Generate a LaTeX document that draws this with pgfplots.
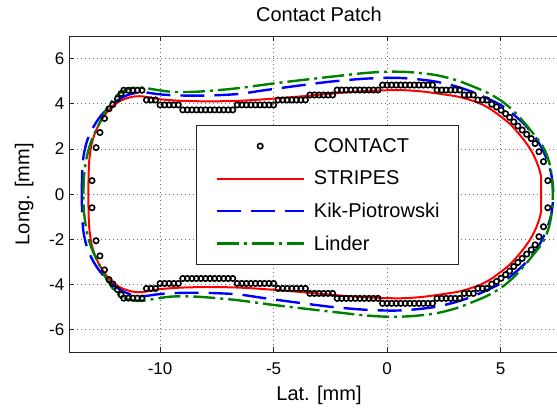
\documentclass[border=0pt]{standalone}
\usepackage{fontspec}
\setmainfont{Liberation Sans}
\usepackage{pgfplots}
\pgfplotsset{compat=1.18}
\definecolor{lindergreen}{RGB}{0,128,0}

\begin{document}
\begin{tikzpicture}
\begin{axis}[
  scale only axis, width=499.4pt, height=316.4pt,
  xmin=-14, xmax=8, ymin=-7, ymax=7,
  xtick={-10,-5,0,5}, ytick={-6,-4,-2,0,2,4,6},
  tick align=inside, major tick length=5pt,
  /pgf/number format/assume math mode=true,
  ticklabel style={font=\fontsize{17}{20}\selectfont},
  yticklabel style={xshift=-1.5pt},
  xticklabel style={yshift=-7pt},
  grid=major,
  grid style={black!55, line width=0.8pt, dash pattern=on 0.8pt off 3.2pt},
  axis line style={black!85, line width=1pt},
  every tick/.style={black!85, line width=0.9pt},
  title={Contact Patch},
  title style={font=\fontsize{20}{24}\selectfont, at={(axis description cs:0.5,1.0253)}, anchor=base},
  xlabel={Lat. [mm]},
  xlabel style={font=\fontsize{20}{24}\selectfont, at={(axis description cs:0.5,-0.1517)}, anchor=base},
  ylabel={Long. [mm]},
  ylabel style={font=\fontsize{20}{24}\selectfont, at={(axis description cs:-0.0901,0.5)}, anchor=center},
  legend cell align=left,
  legend style={at={(axis cs:-8.42,3.07)}, anchor=north west, draw=black!85, line width=1.1pt,
    fill=white, inner xsep=19pt, inner ysep=4.5pt, font=\fontsize{20}{24}\selectfont,
    row sep=0pt, nodes={inner sep=0pt, minimum height=32.5pt},
    /tikz/every odd column/.append style={column sep=9pt}},
  legend image code/.code={\draw[mark repeat=2,mark phase=2,#1] plot coordinates {(0pt,0pt) (43.5pt,0pt) (87pt,0pt)};},
]
\coordinate (O) at (rel axis cs:0,0);

% measured contact points
\addplot[only marks, mark=o, mark size=2.7pt, black, line width=1.6pt,
  mark options={line width=1.6pt},
  legend image post style={line width=1.6pt}] coordinates {
(-13.0,0.6) (-12.82,2.06) (-12.65,2.73) (-12.45,3.35) (-12.25,3.78) (-12.08,3.97) (-11.88,4.22) (-11.72,4.45)
(-11.6,4.6) (-11.4,4.6) (-11.2,4.6) (-11.0,4.6) (-10.8,4.6)
(-10.6,4.17) (-10.4,4.17) (-10.2,4.17)
(-10.0,3.95) (-9.8,3.95) (-9.6,3.95) (-9.4,3.95) (-9.2,3.95)
(-9.0,3.73) (-8.8,3.73) (-8.6,3.73) (-8.4,3.73) (-8.2,3.73) (-8.0,3.73) (-7.8,3.73) (-7.6,3.73) (-7.4,3.73) (-7.2,3.73) (-7.0,3.73) (-6.8,3.73)
(-6.6,3.95) (-6.4,3.95) (-6.2,3.95) (-6.0,3.95) (-5.8,3.95) (-5.6,3.95) (-5.4,3.95) (-5.2,3.95) (-5.0,3.95)
(-4.8,4.17) (-4.6,4.17) (-4.4,4.17) (-4.2,4.17) (-4.0,4.17) (-3.8,4.17) (-3.6,4.17)
(-3.4,4.39) (-3.2,4.39) (-3.0,4.39) (-2.8,4.39) (-2.6,4.39) (-2.4,4.39)
(-2.2,4.61) (-2.0,4.61) (-1.8,4.61) (-1.6,4.61) (-1.4,4.61) (-1.2,4.61) (-1.0,4.61) (-0.8,4.61) (-0.6,4.61) (-0.4,4.61)
(-0.2,4.83) (0.0,4.83) (0.2,4.83) (0.4,4.83) (0.6,4.83) (0.8,4.83) (1.0,4.83) (1.2,4.83) (1.4,4.83) (1.6,4.83) (1.8,4.83) (2.0,4.83)
(2.2,4.61) (2.4,4.61) (2.6,4.61) (2.8,4.61) (3.0,4.61) (3.2,4.61)
(3.4,4.39) (3.6,4.39) (3.8,4.39)
(4.0,4.17) (4.2,4.17) (4.4,4.17)
(4.61,3.98) (4.82,3.86) (5.02,3.72) (5.22,3.56) (5.4,3.4) (5.58,3.2) (5.76,3.02) (5.95,2.84) (6.15,2.65) (6.35,2.46) (6.52,2.24) (6.69,1.88) (6.89,1.44) (7.08,0.6)
(-13.0,-0.6) (-12.82,-2.06) (-12.65,-2.73) (-12.45,-3.35) (-12.25,-3.78) (-12.08,-3.97) (-11.88,-4.22) (-11.72,-4.45)
(-11.6,-4.6) (-11.4,-4.6) (-11.2,-4.6) (-11.0,-4.6) (-10.8,-4.6)
(-10.6,-4.17) (-10.4,-4.17) (-10.2,-4.17)
(-10.0,-3.95) (-9.8,-3.95) (-9.6,-3.95) (-9.4,-3.95) (-9.2,-3.95)
(-9.0,-3.73) (-8.8,-3.73) (-8.6,-3.73) (-8.4,-3.73) (-8.2,-3.73) (-8.0,-3.73) (-7.8,-3.73) (-7.6,-3.73) (-7.4,-3.73) (-7.2,-3.73) (-7.0,-3.73) (-6.8,-3.73)
(-6.6,-3.95) (-6.4,-3.95) (-6.2,-3.95) (-6.0,-3.95) (-5.8,-3.95) (-5.6,-3.95) (-5.4,-3.95) (-5.2,-3.95) (-5.0,-3.95)
(-4.8,-4.17) (-4.6,-4.17) (-4.4,-4.17) (-4.2,-4.17) (-4.0,-4.17) (-3.8,-4.17) (-3.6,-4.17)
(-3.4,-4.39) (-3.2,-4.39) (-3.0,-4.39) (-2.8,-4.39) (-2.6,-4.39) (-2.4,-4.39)
(-2.2,-4.61) (-2.0,-4.61) (-1.8,-4.61) (-1.6,-4.61) (-1.4,-4.61) (-1.2,-4.61) (-1.0,-4.61) (-0.8,-4.61) (-0.6,-4.61) (-0.4,-4.61)
(-0.2,-4.83) (0.0,-4.83) (0.2,-4.83) (0.4,-4.83) (0.6,-4.83) (0.8,-4.83) (1.0,-4.83) (1.2,-4.83) (1.4,-4.83) (1.6,-4.83) (1.8,-4.83) (2.0,-4.83)
(2.2,-4.61) (2.4,-4.61) (2.6,-4.61) (2.8,-4.61) (3.0,-4.61) (3.2,-4.61)
(3.4,-4.39) (3.6,-4.39) (3.8,-4.39)
(4.0,-4.17) (4.2,-4.17) (4.4,-4.17)
(4.61,-3.98) (4.82,-3.86) (5.02,-3.72) (5.22,-3.56) (5.4,-3.4) (5.58,-3.2) (5.76,-3.02) (5.95,-2.84) (6.15,-2.65) (6.35,-2.46) (6.52,-2.24) (6.69,-1.88) (6.89,-1.44) (7.08,-0.6)
};
\addlegendentry{CONTACT}

% STRIPES model
\addplot[color=red, line width=2pt, smooth, tension=0.5,
  legend image post style={line width=2pt}] coordinates {
(-13.16,0) (-13.15,0.8) (-13.12,1.5) (-13.02,2.2) (-12.85,2.75) (-12.62,3.22) (-12.35,3.62) (-12.02,3.96)
(-11.6,4.2) (-11.1,4.33) (-10.7,4.32) (-10.3,4.25) (-9.9,4.19) (-9.0,4.13) (-8.0,4.11) (-6.9,4.12)
(-6.0,4.16) (-5.0,4.23) (-4.0,4.31) (-3.0,4.40) (-2.0,4.49) (-1.0,4.56) (0.0,4.60) (0.8,4.60)
(1.6,4.54) (2.4,4.43) (3.2,4.3) (4.0,4.05) (4.5,3.8) (4.9,3.52) (5.4,3.12) (5.8,2.68) (6.1,2.3)
(6.37,1.89) (6.58,1.45) (6.72,1.05) (6.78,0.8) (6.78,0)
(6.78,-0.8) (6.72,-1.05) (6.58,-1.45) (6.37,-1.89) (6.1,-2.3) (5.8,-2.68) (5.4,-3.12) (4.9,-3.52)
(4.5,-3.8) (4.0,-4.05) (3.2,-4.3) (2.4,-4.43) (1.6,-4.54) (0.8,-4.60) (0.0,-4.60) (-1.0,-4.56)
(-2.0,-4.49) (-3.0,-4.40) (-4.0,-4.31) (-5.0,-4.23) (-6.0,-4.16) (-6.9,-4.12) (-8.0,-4.11) (-9.0,-4.13)
(-9.9,-4.19) (-10.3,-4.25) (-10.7,-4.32) (-11.1,-4.33) (-11.6,-4.2) (-12.02,-3.96) (-12.35,-3.62)
(-12.62,-3.22) (-12.85,-2.75) (-13.02,-2.2) (-13.12,-1.5) (-13.15,-0.8) (-13.16,0)
};
\addlegendentry{STRIPES}

% Kik-Piotrowski model
\addplot[color=blue, line width=2.4pt, dash pattern=on 24pt off 10pt, smooth, tension=0.5,
  legend image post style={line width=2.4pt}] coordinates {
(-13.45,0) (-13.43,1.0) (-13.37,1.7) (-13.22,2.35) (-12.98,2.9) (-12.7,3.35) (-12.4,3.7) (-12.0,4.07)
(-11.5,4.36) (-11.0,4.5) (-10.6,4.5) (-10.2,4.44) (-9.5,4.38) (-8.5,4.36) (-7.5,4.38) (-6.5,4.44)
(-5.4,4.6) (-4.0,4.79) (-2.5,4.98) (-1.0,5.11) (0.3,5.15) (1.2,5.1) (2.1,4.99) (3.0,4.78) (3.8,4.51)
(4.5,4.2) (5.05,3.92) (5.6,3.5) (6.07,3.07) (6.5,2.55) (6.81,2.05) (7.05,1.5) (7.22,0.95) (7.3,0.4) (7.32,0)
(7.3,-0.4) (7.22,-0.95) (7.05,-1.5) (6.81,-2.05) (6.5,-2.55) (6.07,-3.07) (5.6,-3.5) (5.05,-3.92)
(4.5,-4.2) (3.8,-4.51) (3.0,-4.78) (2.1,-4.99) (1.2,-5.1) (0.3,-5.15) (-1.0,-5.11) (-2.5,-4.98)
(-4.0,-4.79) (-5.4,-4.6) (-6.5,-4.44) (-7.5,-4.38) (-8.5,-4.36) (-9.5,-4.38) (-10.2,-4.44) (-10.6,-4.5)
(-11.0,-4.5) (-11.5,-4.36) (-12.0,-4.07) (-12.4,-3.7) (-12.7,-3.35) (-12.98,-2.9) (-13.22,-2.35)
(-13.37,-1.7) (-13.43,-1.0) (-13.45,0)
};
\addlegendentry{Kik-Piotrowski}

% Linder model
\addplot[color=lindergreen, line width=2.4pt, dash pattern=on 22pt off 5pt on 3pt off 5pt, smooth, tension=0.5,
  legend image post style={line width=2.4pt}] coordinates {
(-13.38,0) (-13.35,0.8) (-13.25,1.55) (-13.1,2.15) (-12.92,2.62) (-12.68,3.12) (-12.38,3.72) (-12.0,4.28)
(-11.6,4.58) (-11.2,4.7) (-10.8,4.72) (-10.3,4.64) (-9.5,4.53) (-8.5,4.53) (-7.5,4.6) (-6.5,4.7)
(-5.0,4.9) (-3.5,5.08) (-2.0,5.25) (-1.0,5.36) (0.0,5.42) (1.0,5.4) (2.1,5.28) (3.0,5.06) (3.6,4.84)
(4.4,4.5) (5.05,4.12) (5.6,3.65) (6.1,3.1) (6.5,2.6) (6.81,2.2) (7.05,1.7) (7.2,1.15) (7.28,0.5) (7.3,0)
(7.28,-0.5) (7.2,-1.15) (7.05,-1.7) (6.81,-2.2) (6.5,-2.6) (6.1,-3.1) (5.6,-3.65) (5.05,-4.12)
(4.4,-4.5) (3.6,-4.84) (3.0,-5.06) (2.1,-5.28) (1.0,-5.4) (0.0,-5.42) (-1.0,-5.36) (-2.0,-5.25)
(-3.5,-5.08) (-5.0,-4.9) (-6.5,-4.7) (-7.5,-4.6) (-8.5,-4.53) (-9.5,-4.53) (-10.3,-4.64) (-10.8,-4.72)
(-11.2,-4.7) (-11.6,-4.58) (-12.0,-4.28) (-12.38,-3.72) (-12.68,-3.12) (-12.92,-2.62) (-13.1,-2.15)
(-13.25,-1.55) (-13.35,-0.8) (-13.38,0)
};
\addlegendentry{Linder}
\end{axis}
% the figure ends a little before the right edge of the axes
\pgfresetboundingbox
\path[use as bounding box] ([shift={(-69.3pt,-55.3pt)}]O) rectangle ([shift={(487.7pt,352.4pt)}]O);
\end{tikzpicture}
\end{document}
